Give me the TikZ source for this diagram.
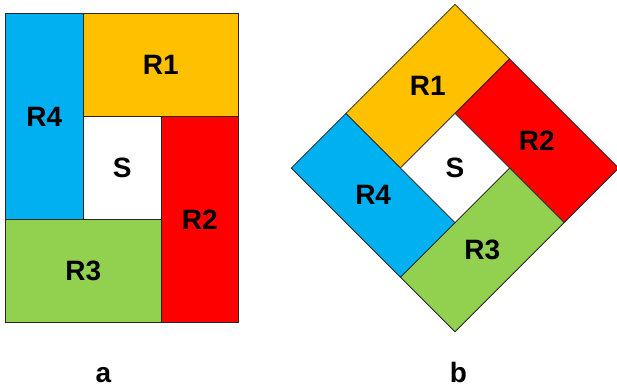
\documentclass[tikz,border=0pt]{standalone}
\usepackage{fontspec}
\setmainfont{Liberation Sans}
\definecolor{cOrange}{HTML}{FFC000}
\definecolor{cRed}{HTML}{FF0000}
\definecolor{cBlue}{HTML}{00B0F0}
\definecolor{cGreen}{HTML}{92D050}
\tikzset{
  region/.style={draw=black!85, line width=0.75pt, line join=miter},
  lbl/.style={font=\fontsize{28}{30}\selectfont\bfseries, inner sep=0pt},
}
\begin{document}
\begin{tikzpicture}[x=1pt,y=1pt]
\useasboundingbox (0,0) rectangle (617,-389);
% ---- figure a ----
\filldraw[region, fill=cBlue]   (5.3,-13.3) rectangle (83.3,-219.3);
\filldraw[region, fill=cOrange] (83.3,-13.3) rectangle (238.3,-116.7);
\filldraw[region, fill=cRed]    (161,-116.7) rectangle (238.3,-322.3);
\filldraw[region, fill=cGreen]  (5.3,-219.3) rectangle (161,-322.3);
\filldraw[region, fill=white]   (83.3,-116.7) rectangle (161,-219.3);
\node[lbl] (aR1) at (160.8,-65) {R1};
\node[lbl] (aR4) at (44.3,-116.5) {R4};
\node[lbl] (aS)  at (122.2,-168) {S};
\node[lbl] (aR2) at (199.7,-219.5) {R2};
\node[lbl] (aR3) at (83.2,-270.8) {R3};
% ---- figure b ----
\begin{scope}[shift={(455,-4.3)}, x={(54.57pt,-54.57pt)}, y={(-54.57pt,-54.57pt)}]
\filldraw[region, fill=cOrange] (0,0) -- (1,0) -- (1,2) -- (0,2) -- cycle;
\filldraw[region, fill=cRed]    (1,0) -- (3,0) -- (3,1) -- (1,1) -- cycle;
\filldraw[region, fill=cGreen]  (2,1) -- (3,1) -- (3,3) -- (2,3) -- cycle;
\filldraw[region, fill=cBlue]   (0,2) -- (2,2) -- (2,3) -- (0,3) -- cycle;
\filldraw[region, fill=white]   (1,1) -- (2,1) -- (2,2) -- (1,2) -- cycle;
\node[lbl] (bR1) at (0.5,1) {R1};
\node[lbl] (bR2) at (2,0.5) {R2};
\node[lbl] (bR3) at (2.5,2) {R3};
\node[lbl] (bR4) at (1,2.5) {R4};
\node[lbl] (bS)  at (1.5,1.5) {S};
\end{scope}
% ---- captions ----
\node[lbl, anchor=base] (capA) at (103.3,-382) {a};
\node[lbl, anchor=base] (capB) at (458.3,-382) {b};
\end{tikzpicture}
\end{document}
